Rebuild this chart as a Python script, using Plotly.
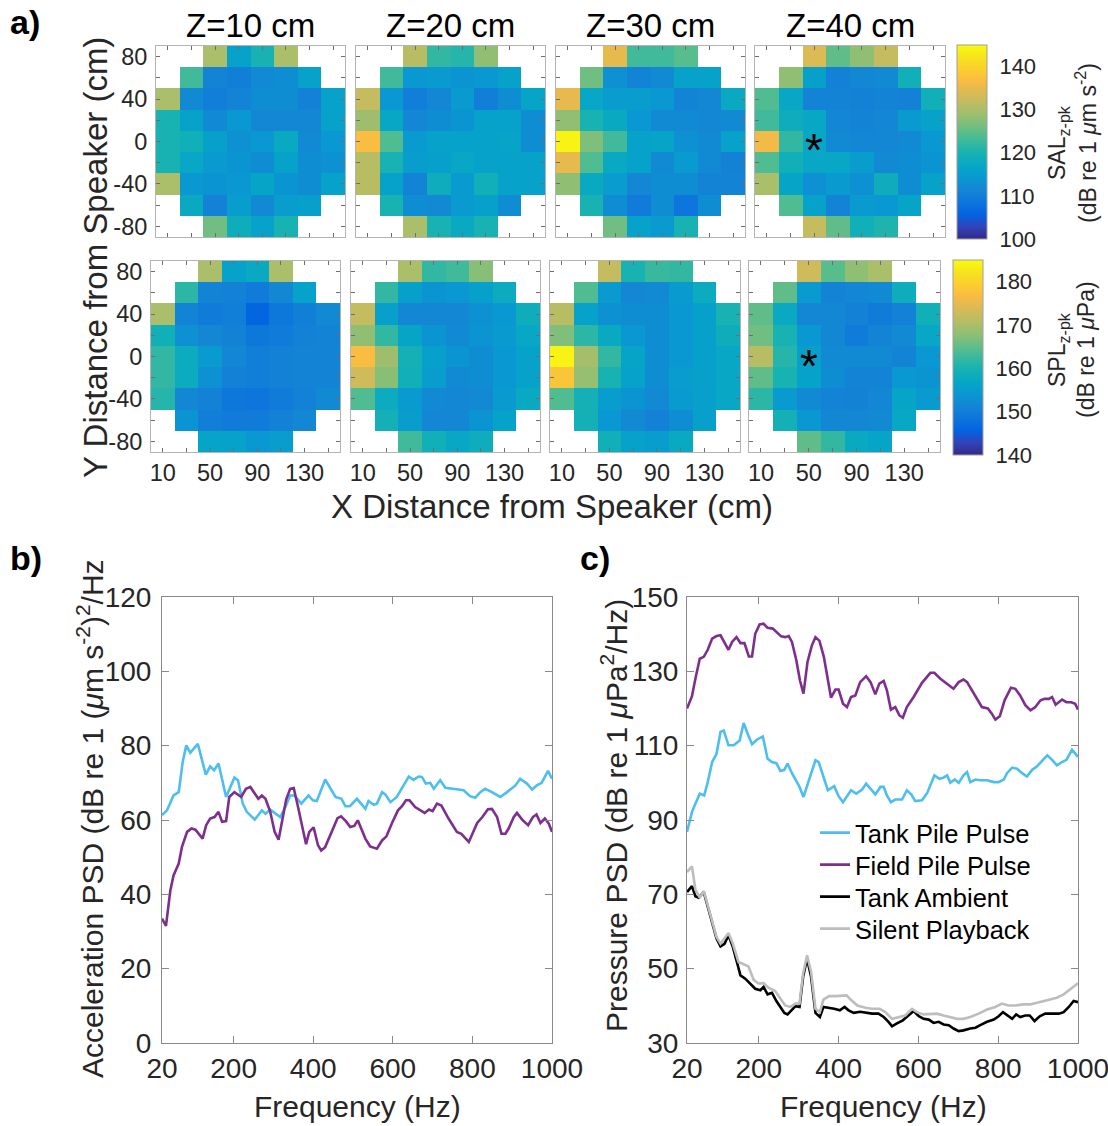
import plotly.graph_objects as go

# ---------------- data ----------------
x_cm = [10, 30, 50, 70, 90, 110, 130, 150]
y_cm = [80, 60, 40, 20, 0, -20, -40, -60, -80]
x_labelvals = [10, 50, 90, 130]
x_minorvals = [30, 70, 110, 150]
y_labelvals = [-80, -40, 0, 40, 80]
y_labeltext = ["-80", "-40", "0", "40", "80"]
y_minorvals = [-60, -20, 20, 60]
z_titles = ["Z=10 cm", "Z=20 cm", "Z=30 cm", "Z=40 cm"]
N = None

sal_z10 = [
    [N, N, 130, 116, 120, 130, N, N],
    [N, 123, 111, 110, 112, 112.5, 116, N],
    [130, 112, 110, 111, 112.5, 112.5, 110.5, 116],
    [120, 116, 112, 114, 111.5, 111.5, 111.5, 116],
    [120, 119, 115.5, 113, 114, 117.5, 112, 114],
    [120, 117, 114.5, 113.5, 112.5, 116, 112.5, 113],
    [130, 114, 113.5, 114, 116.5, 113.5, 112.5, 116],
    [N, 117.5, 110.5, 115, 112, 115, 115.5, N],
    [N, N, 126, 118.5, 116, 120, N, N]]
sal_z20 = [
    [N, N, 131, 122, 121, 128, N, N],
    [N, 123, 114, 114.5, 113.5, 114, 116, N],
    [132, 114, 110, 111.5, 114.5, 110, 112.5, 116.5],
    [129, 117, 111.5, 112.5, 113.5, 116, 116, 112.5],
    [137, 124, 114.5, 116, 116, 116, 116.5, 112.5],
    [131, 120, 115, 115.5, 117, 116, 116, 116],
    [131, 116, 111, 118.5, 114.5, 119, 116, 116],
    [N, 120, 112.5, 112, 114.5, 115.5, 112.5, N],
    [N, N, 130, 120, 117.5, 120, N, N]]
sal_z30 = [
    [N, N, 135, 123, 123, 124.5, N, N],
    [N, 126, 113, 111, 112, 116, 116, N],
    [135, 117, 115, 115, 114, 111, 111.5, 117.5],
    [128, 120, 117.5, 114, 112, 112, 111.5, 112],
    [144, 127, 123, 116, 116.5, 113, 112, 116],
    [135, 124, 117.5, 116, 112, 114.5, 112, 110.5],
    [128, 117.5, 115, 111.5, 112.5, 112.5, 111, 111],
    [N, 120, 112.5, 109.5, 112.5, 108.5, 112.5, N],
    [N, N, 126, 116, 114.5, 120, N, N]]
sal_z40 = [
    [N, N, 134, 125, 128, 132, N, N],
    [N, 128, 115.5, 110.5, 111.5, 112, 119, N],
    [124, 117, 111, 111, 110.5, 111, 110.5, 119],
    [123, 118.5, 117, 111.5, 111, 111.5, 114.5, 116],
    [136, 122, 117, 112, 111.5, 111.5, 112, 114],
    [124, 119, 117, 117, 115, 112, 112.5, 113.5],
    [130, 116.5, 113, 114.5, 113, 118.5, 112.5, 116],
    [N, 124, 116, 111, 114.5, 114, 116.5, N],
    [N, N, 132, 125, 119, 120.5, N, N]]

spl_z10 = [
    [N, N, 170, 156, 157.5, 170, N, N],
    [N, 161.5, 151, 150.5, 149.5, 151.5, 156, N],
    [170, 151, 149.5, 150, 146, 149, 150, 152],
    [159, 153, 151.5, 150.5, 149, 149.5, 150.5, 151],
    [162, 158, 154.5, 151.5, 150, 150.5, 151, 151],
    [162, 158, 153, 150.5, 150, 150.5, 151, 151],
    [161, 151.5, 150.5, 149, 148.5, 149.5, 150.5, 152],
    [N, 153.5, 150, 149.5, 149.5, 150.5, 151.5, N],
    [N, N, 156.5, 156, 154, 155, N, N]]
spl_z20 = [
    [N, N, 170, 162, 163, 167.5, N, N],
    [N, 162, 155.5, 153.5, 154, 155.5, 158, N],
    [172, 155.5, 151.5, 151.5, 151.5, 153, 154, 158.5],
    [168, 162, 156.5, 153.5, 152, 153.5, 154.5, 157],
    [177, 169, 159.5, 155.5, 153.5, 152.5, 154, 156],
    [173, 167.5, 159, 155, 152, 152.5, 154, 156],
    [164, 158, 154.5, 152, 151.5, 152, 154.5, 157.5],
    [N, 159.5, 155, 151.5, 151.5, 153.5, 156, N],
    [N, N, 163, 159, 157, 158.5, N, N]]
spl_z30 = [
    [N, N, 172, 160, 162.5, 162, N, N],
    [N, 164, 154.5, 151.5, 152, 154.5, 158, N],
    [171, 156, 153, 152.5, 152.5, 154, 155.5, 160],
    [167, 161.5, 157.5, 154, 152.5, 154, 155.5, 158.5],
    [184, 169.5, 162, 156.5, 152.5, 154, 155.5, 157],
    [178, 168.5, 160, 156, 152.5, 155, 155.5, 157],
    [164, 159.5, 155, 153.5, 152, 154.5, 155.5, 157],
    [N, 159.5, 154, 152, 150.5, 152.5, 155.5, N],
    [N, N, 159, 156, 155, 157.5, N, N]]
spl_z40 = [
    [N, N, 173, 164.5, 168, 170, N, N],
    [N, 165, 154.5, 151, 151.5, 152, 158.5, N],
    [165, 157.5, 151.5, 151.5, 150.5, 149.5, 150.5, 159],
    [166, 160, 154, 151.5, 149.5, 151, 152, 157],
    [171, 161, 155.5, 152, 152, 152, 151, 154],
    [165, 160, 156, 152.5, 151, 151, 154, 153.5],
    [161.5, 154.5, 152, 151, 150.5, 151.5, 156.5, 154.5],
    [N, 159.5, 154, 151.5, 151.5, 152, 157, N],
    [N, N, 165, 162, 157.5, 156.5, N, N]]

star_x = 50
star_y = 0

# panel b: acceleration PSD
b_tank_f = [20, 32.6, 49, 62, 72, 81, 91, 110, 130, 141, 151, 162, 181, 202, 211, 223, 233, 253, 271, 280,
            292, 303, 317, 330, 342, 353, 370, 388, 399, 409, 430, 456, 471, 481, 492, 510, 531, 539, 552, 560,
            573, 581, 594, 610, 640, 652, 665, 673, 683, 694, 703, 719, 732, 765, 778, 794, 807, 820, 832, 849,
            870, 887, 908, 920, 937, 950, 962, 974, 990, 1000]
b_tank_v = [61.3, 62.6, 66.6, 67.5, 75.6, 80.1, 78.1, 80.5, 72.2, 74.4, 73.4, 75.2, 66.2, 71.4, 70.7, 64.4, 62.2, 60.1, 62.6, 61.7,
            62.8, 61.9, 60.8, 63.5, 66.6, 66.6, 64.4, 66.6, 65.3, 65.1, 70.9, 66.2, 65.7, 63.7, 63.7, 65.7, 63, 65.1, 64.1, 64.4,
            67.5, 66.9, 64.8, 66.2, 71.7, 70.8, 71.7, 71.6, 69.8, 70, 68.4, 70.7, 68.7, 68.2, 68, 66.4, 66, 67.5, 68.4, 67.5,
            66.2, 67.5, 69.3, 71.1, 69.8, 68.2, 69.3, 70, 73.2, 71.1]
b_field_f = [20, 30, 41, 49, 62, 70, 83, 94, 104, 113, 122, 131, 141, 152, 162, 171, 181, 189, 202, 219,
             231, 242, 255, 262, 271, 280, 292, 303, 313, 322, 332, 342, 351, 361, 372, 382, 390, 401, 412, 420,
             430, 443, 461, 470, 482, 493, 503, 512, 531, 543, 560, 573, 584, 598, 613, 623, 633, 642, 656, 680,
             691, 700, 711, 722, 740, 761, 772, 791, 812, 825, 839, 849, 862, 873, 883, 891, 904, 912, 925, 940,
             952, 961, 971, 982, 992, 1000]
b_field_v = [33.5, 31.5, 41.1, 45.1, 48.3, 52.7, 56.8, 57.7, 57.4, 56.1, 55, 58.6, 60.4, 60.8, 62.2, 59.5, 59.7, 66.2, 67.5, 66.2,
             68.4, 68.9, 66.6, 65.7, 66.6, 65.7, 62.2, 56.8, 54.7, 59.9, 65.5, 68.4, 68.6, 63.9, 58.1, 53.5, 56.8, 58, 53.2, 51.8,
             52.7, 55.9, 60.5, 61, 59.7, 58.1, 58.4, 59.9, 55, 52.9, 52.3, 54.5, 55.6, 59.2, 62.6, 63.7, 65.3, 65.3, 63.5, 61.9,
             62.8, 62.4, 64.4, 63.9, 60.4, 56.8, 56.3, 54.1, 59.2, 60.8, 62.9, 63, 60.8, 56.3, 56.3, 57.7, 60.8, 61.9, 60.1, 58.6,
             60.8, 61.5, 59.2, 60.4, 59, 56.8]

# panel c: pressure PSD
c_tank_f = [20, 32.5, 41, 52, 63, 72, 83, 94, 104, 112, 124, 137, 152, 162, 172, 183, 195, 210, 222, 233,
            244, 254, 264, 272, 283, 296, 302, 312, 325, 342, 350, 361, 373, 389, 400, 411, 431, 444, 459, 469,
            481, 492, 505, 513, 521, 531, 542, 559, 571, 582, 592, 609, 622, 632, 640, 653, 663, 672, 680, 691,
            701, 713, 722, 730, 743, 755, 772, 789, 801, 814, 822, 835, 847, 860, 872, 885, 896, 910, 923, 935,
            947, 960, 971, 985, 1000]
c_tank_v = [86.8, 92.2, 94.4, 97.1, 96.6, 100.2, 105.6, 107.8, 113.7, 114.1, 110.1, 110.1, 111.4, 116.1, 113.2, 110.4, 111.6, 112.5, 106.5, 105.6,
            105.3, 103.2, 103.5, 105.2, 102.6, 100.2, 98.9, 96.2, 100.5, 106.1, 105.6, 101.7, 98, 99.1, 96.4, 94.8, 98, 97.1, 98.2, 99.8,
            98.2, 96.9, 98.9, 98.9, 96.6, 94.8, 95.5, 95.5, 98, 96.9, 95.1, 95.3, 97.3, 100.2, 102, 101.1, 101.4, 102, 100, 100.9,
            100, 102, 102.9, 100.2, 100.9, 100.7, 100.7, 100.2, 100.2, 100.9, 102.6, 104.1, 103.8, 102.6, 101.7, 103.5, 104.3, 105.9, 107.4, 106.2,
            104.7, 105.6, 106.2, 108.9, 107]
c_field_f = [20, 32.5, 41, 52, 62, 72, 83, 94, 104, 114, 124, 133, 144, 154, 164, 175, 183, 191, 202, 212,
             222, 235, 245, 256, 266, 275, 283, 294, 303, 312, 322, 333, 342, 352, 363, 373, 381, 392, 400, 411,
             421, 431, 442, 454, 469, 480, 492, 502, 513, 521, 531, 542, 552, 561, 571, 588, 609, 630, 640, 655,
             672, 688, 701, 713, 722, 734, 747, 759, 774, 784, 793, 804, 816, 832, 843, 855, 868, 881, 893, 906,
             916, 927, 935, 944, 960, 971, 983, 993, 1000]
c_field_v = [120, 123.3, 128, 133.4, 133.9, 135.8, 138.8, 139.5, 139.7, 137.9, 135.8, 137.9, 139.2, 137.6, 137.6, 134, 134, 140.1, 142.6, 142.8,
             141.7, 141.5, 140.6, 139.4, 139.2, 139.5, 137.9, 133, 127.6, 124, 132.5, 137, 139.2, 138.2, 133.9, 128, 122.9, 125.1, 125.1, 121.3,
             120.4, 123.1, 123.5, 127.1, 128.7, 127.1, 123.8, 126.7, 127.4, 124.9, 119.7, 120.4, 118.2, 117.5, 120.4, 123.1, 126.9, 129.6, 129.6, 128,
             126.5, 125.3, 127.1, 127.8, 127.1, 124.9, 122.6, 120.4, 120, 118.6, 117, 117.9, 122.2, 125.6, 125.3, 123.5, 120.9, 119.5, 120.4, 122.2,
             122.6, 122.6, 123.1, 121, 122.4, 121.7, 121.7, 121.3, 119.7]
c_amb_f = [20, 32.5, 41, 49, 62, 72, 83, 94, 104, 114, 124, 135, 145, 154, 166, 177, 191, 204, 212, 222,
           233, 244, 254, 264, 272, 283, 292, 302, 311, 321, 331, 342, 353, 362, 376, 389, 403, 415, 425, 438,
           454, 467, 484, 500, 513, 525, 534, 545, 561, 575, 588, 601, 613, 626, 638, 651, 663, 676, 688, 701,
           713, 730, 743, 755, 772, 789, 801, 812, 824, 835, 845, 855, 868, 879, 891, 904, 918, 935, 952, 964,
           977, 989, 1000]
c_amb_v = [70.6, 72.2, 69.5, 69.1, 70.6, 66.6, 62.1, 58.1, 56, 56.7, 59, 55.8, 51.8, 48.2, 47.3, 46, 44.6, 44.2, 45.1, 43.1,
           43.5, 41.3, 39.7, 38.1, 37.7, 38.8, 39.9, 39.7, 47.8, 52.7, 47.8, 38.1, 37, 39.7, 39.5, 39.2, 38.8, 39.7, 38.8, 38.1,
           38.4, 38.1, 37.9, 37.9, 37, 35.7, 34.5, 35.2, 36.1, 37.4, 38.6, 37.2, 36.5, 36.3, 35.4, 35.7, 35, 34.8, 33.9, 33.2,
           33.4, 33.9, 34.1, 34.8, 35.7, 36.3, 37.2, 38.3, 37.4, 36.5, 37.7, 37, 37.4, 37.4, 35.9, 37.2, 37.9, 37.9, 37.9, 38.3,
           39.7, 41.3, 41]
c_silent_f = [20, 32.5, 41, 52, 62, 72, 83, 94, 104, 114, 124, 135, 149, 162, 174, 187, 199, 212, 224, 241,
              254, 266, 279, 292, 302, 311, 321, 331, 342, 353, 362, 376, 392, 409, 420, 430, 447, 467, 484, 503,
              517, 534, 550, 567, 584, 596, 613, 630, 646, 663, 680, 697, 713, 730, 751, 772, 793, 809, 826, 843,
              864, 881, 897, 914, 931, 947, 964, 981, 1000]
c_silent_v = [76, 77.5, 71.3, 69.1, 70.9, 67, 62.6, 58.5, 56.7, 58.1, 59.6, 56.7, 51.8, 51.2, 50.6, 47, 46, 46.1, 44.9, 44,
              41.9, 40.1, 39.7, 40.6, 40.6, 48.7, 53.6, 49.1, 39.2, 38.3, 41.7, 42.6, 42.6, 42.8, 42.8, 41.7, 40.1, 39.5, 39.2, 39.2,
              38.3, 36.5, 37, 37.4, 39.2, 38.3, 37.7, 37.7, 37.9, 37.4, 37, 36.5, 36.5, 37, 37.9, 39, 39.7, 40.6, 40.1, 40.1,
              40.4, 40.4, 40.8, 41.3, 41.7, 42.2, 43.1, 44.4, 46.1]

freq_ticks = [20, 200, 400, 600, 800, 1000]
series_names = ["Tank Pile Pulse", "Field Pile Pulse", "Tank Ambient", "Silent Playback"]

# ---------------- styling ----------------
W, H = 1108, 1126
FONT = "Liberation Sans, Arial, sans-serif"
TXT = "#262626"

def px(p):
    return p / W

def py(p):
    return 1 - p / H

parula_rgb = [
    (0.2081, 0.1663, 0.5292), (0.1959, 0.2645, 0.7279), (0.0117, 0.3875, 0.8820),
    (0.0498, 0.4586, 0.8641), (0.0793, 0.5200, 0.8312), (0.0343, 0.5966, 0.8199),
    (0.0228, 0.6535, 0.7768), (0.0843, 0.6928, 0.7062), (0.2178, 0.7250, 0.6193),
    (0.3953, 0.7459, 0.5244), (0.5709, 0.7485, 0.4494), (0.7184, 0.7411, 0.3905),
    (0.8507, 0.7299, 0.3360), (0.9739, 0.7314, 0.2666), (0.9880, 0.8066, 0.1794),
    (0.9589, 0.8949, 0.1132), (0.9763, 0.9831, 0.0538)]
parula = [[i / (len(parula_rgb) - 1), "rgb(%d,%d,%d)" % tuple(int(round(c * 255)) for c in rgb)]
          for i, rgb in enumerate(parula_rgb)]

heat_x_px = [(156, 345), (356, 545), (556, 745), (755, 945),
             (151, 340), (351, 540), (550, 740), (749, 940)]
heat_y_px = [(46, 237)] * 4 + [(261, 452)] * 4
heat_data = [sal_z10, sal_z20, sal_z30, sal_z40, spl_z10, spl_z20, spl_z30, spl_z40]

fig = go.Figure()
layout = dict(width=W, height=H, margin=dict(l=0, r=0, t=0, b=0),
              paper_bgcolor="white", plot_bgcolor="white",
              font=dict(family=FONT, color=TXT), showlegend=True)

for i in range(8):
    n = i + 1
    xa = "x" if n == 1 else "x%d" % n
    ya = "y" if n == 1 else "y%d" % n
    fig.add_trace(go.Heatmap(z=heat_data[i], x=x_cm, y=y_cm, xaxis=xa, yaxis=ya,
                             coloraxis="coloraxis" if i < 4 else "coloraxis2",
                             showlegend=False, hoverongaps=False))
    x0, x1 = heat_x_px[i]
    y0, y1 = heat_y_px[i]
    axcommon = dict(showline=True, linecolor="#b4b4b4", linewidth=1, mirror="allticks",
                    ticks="inside", ticklen=4, tickcolor="#6e6e6e", showgrid=False,
                    zeroline=False, automargin=False, tickfont=dict(size=23.5, color=TXT))
    layout["xaxis" if n == 1 else "xaxis%d" % n] = dict(
        axcommon, domain=[px(x0), px(x1)], range=[0, 160], anchor=ya,
        tickvals=x_labelvals, showticklabels=(i >= 4), fixedrange=True,
        minor=dict(tickvals=x_minorvals, ticks="inside", ticklen=4, tickcolor="#6e6e6e", showgrid=False))
    layout["yaxis" if n == 1 else "yaxis%d" % n] = dict(
        axcommon, domain=[py(y1), py(y0)], range=[-90, 90], anchor=xa,
        tickvals=y_labelvals, ticktext=y_labeltext, showticklabels=(i in (0, 4)), fixedrange=True,
        ticklabelstandoff=3,
        minor=dict(tickvals=y_minorvals, ticks="inside", ticklen=4, tickcolor="#6e6e6e", showgrid=False))

cb_common = dict(thickness=30, thicknessmode="pixels", lenmode="pixels", xanchor="left",
                 yanchor="middle", xpad=0, ypad=0, outlinecolor="#a0a0a0", outlinewidth=1,
                 ticks="outside", ticklen=8, tickcolor="rgba(0,0,0,0)",
                 tickfont=dict(size=22, color=TXT, family=FONT))
layout["coloraxis"] = dict(colorscale=parula, cmin=100, cmax=145,
                           colorbar=dict(cb_common, x=px(957), y=py(142), len=194,
                                         tickvals=[100, 110, 120, 130, 140]))
layout["coloraxis2"] = dict(colorscale=parula, cmin=140, cmax=185,
                            colorbar=dict(cb_common, x=px(953), y=py(357.5), len=195,
                                          tickvals=[140, 150, 160, 170, 180]))

# line plots
line_colors = ["#4DBEEE", "#7E2F8E", "#000000", "#BDBDBD"]
legend_ids = ["legend", "legend2", "legend3", "legend4"]
legend_y_px = [833, 865, 897, 929]
series = [("x9", "y9", b_tank_f, b_tank_v, 0, False),
          ("x9", "y9", b_field_f, b_field_v, 1, False),
          ("x10", "y10", c_tank_f, c_tank_v, 0, True),
          ("x10", "y10", c_field_f, c_field_v, 1, True),
          ("x10", "y10", c_amb_f, c_amb_v, 2, True),
          ("x10", "y10", c_silent_f, c_silent_v, 3, True)]
for xa, ya, f, v, k, leg in series:
    fig.add_trace(go.Scatter(x=f, y=v, xaxis=xa, yaxis=ya, mode="lines",
                             line=dict(color=line_colors[k], width=2.6),
                             name=series_names[k], showlegend=leg, legend=legend_ids[k]))

lax = dict(showline=True, linecolor="#8a8a8a", linewidth=1, mirror="allticks",
           ticks="inside", ticklen=7, tickcolor="#8a8a8a", showgrid=False, zeroline=False,
           automargin=False, tickfont=dict(size=28, color=TXT), fixedrange=True,
           ticklabeloverflow="allow")
layout["xaxis9"] = dict(lax, domain=[px(162), px(552)], range=[20, 1000], tickvals=freq_ticks, anchor="y9")
layout["yaxis9"] = dict(lax, domain=[py(1043), py(597)], range=[0, 120], dtick=20, anchor="x9",
                        ticklabelstandoff=4)
layout["xaxis10"] = dict(lax, domain=[px(687), px(1078)], range=[20, 1000], tickvals=freq_ticks, anchor="y10")
layout["yaxis10"] = dict(lax, domain=[py(1043), py(597)], range=[30, 150], tickvals=[30, 50, 70, 90, 110, 130, 150],
                         anchor="x10", ticklabelstandoff=2)

for lid, ly in zip(legend_ids, legend_y_px):
    layout[lid] = dict(x=px(815), y=py(ly), xanchor="left", yanchor="middle",
                       bgcolor="rgba(255,255,255,0)", borderwidth=0,
                       font=dict(size=25.5, color="#000000", family=FONT),
                       tracegroupgap=0, itemwidth=30)

ann = []
def add_text(x, y, text, size, angle=0, bold=False, xanchor="center", yanchor="middle", color=TXT, xref="paper", yref="paper"):
    ann.append(dict(x=x, y=y, xref=xref, yref=yref, text=("<b>%s</b>" % text) if bold else text,
                    showarrow=False, textangle=angle, xanchor=xanchor, yanchor=yanchor,
                    font=dict(size=size, color=color, family=FONT)))

add_text(px(8), py(22), "a)", 34, bold=True, xanchor="left", color="#000000")
add_text(px(8), py(558), "b)", 34, bold=True, xanchor="left", color="#000000")
add_text(px(578), py(558), "c)", 34, bold=True, xanchor="left", color="#000000")
for j in range(4):
    x0, x1 = heat_x_px[j]
    add_text(px((x0 + x1) / 2), py(25), z_titles[j], 33, color="#000000")
add_text(px(96), py(258), "Y Distance from Speaker (cm)", 33, angle=-90)
add_text(px(552), py(506), "X Distance from Speaker (cm)", 33)
add_text(px(1058), py(143), "SAL<sub>z-pk</sub>", 23, angle=-90)
add_text(px(1086), py(143), "(dB re 1 <i>μ</i>m s<sup>-2</sup>)", 23, angle=-90)
add_text(px(1058), py(350), "SPL<sub>z-pk</sub>", 23, angle=-90)
add_text(px(1086), py(350), "(dB re 1 <i>μ</i>Pa)", 23, angle=-90)
add_text(px(90), py(819), "Acceleration PSD (dB re 1 (<i>μ</i>m s<sup>-2</sup>)<sup>2</sup>/Hz", 30, angle=-90)
add_text(px(614), py(816), "Pressure PSD (dB re 1 <i>μ</i>Pa<sup>2</sup>/Hz)", 30, angle=-90)
add_text(px(357), py(1106), "Frequency (Hz)", 30)
add_text(px(883), py(1106), "Frequency (Hz)", 30)

for xa, ya in (("x4", "y4"), ("x8", "y8")):
    ann.append(dict(x=star_x, y=star_y, xref=xa, yref=ya, text="*", showarrow=False,
                    yshift=-9, font=dict(size=46, color="#000000", family=FONT)))

layout["annotations"] = ann
fig.update_layout(**layout)
fig.write_html("out.html", config={"displayModeBar": False},
               post_script="document.body.style.margin='0px';document.body.style.overflow='hidden';")
